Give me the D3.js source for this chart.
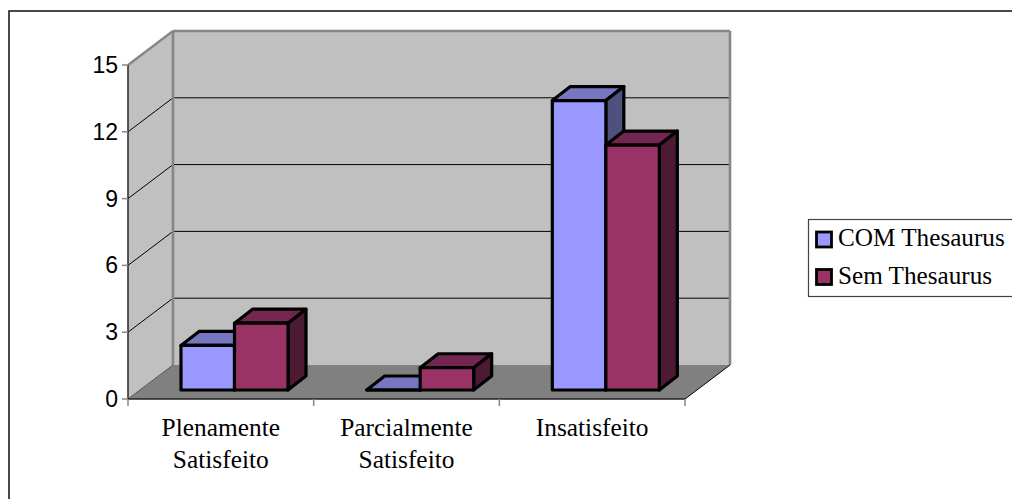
<!DOCTYPE html>
<html><head><meta charset="utf-8">
<script src="https://cdn.jsdelivr.net/npm/d3@7/dist/d3.min.js"></script>
<style>html,body{margin:0;padding:0;background:#fff}svg{display:block}</style>
</head><body><svg id="c" width="1012" height="499"></svg>
<script>
const categories=[["Plenamente","Satisfeito"],["Parcialmente","Satisfeito"],["Insatisfeito"]];
const seriesNames=["COM Thesaurus","Sem Thesaurus"];
const comThesaurus=[2,0,13];
const semThesaurus=[3,1,11];
const yTicks=[0,3,6,9,12,15];
const frontColors=["#9999FF","#993366"];
const topColors=["#7777C1","#722650"];
const sideColors=["#50507F","#4C1A33"];

const svg=d3.select("#c");
const serif='"Liberation Serif","Times New Roman",serif', sans='"Liberation Sans",Arial,sans-serif';
const x0=d3.scaleBand().domain(d3.range(categories.length)).range([128,685]).padding(0);
const y=d3.scaleLinear().domain([0,15]).range([399,65]);
const wallDx=45, wallDy=-34, barDx=18, barDy=-14, barLift=9, barShift=8;
const x1=d3.scaleBand().domain([0,1]).range([wallDx+barShift-8,wallDx+barShift-8+107]);
const line=d3.line();
const poly=(pts,fill,stroke,sw)=>svg.append("path").attr("d",line(pts)+"Z").attr("fill",fill)
  .attr("stroke",stroke||"none").attr("stroke-width",sw||0).attr("stroke-linejoin","round");
const seg=(a,b,c,w)=>svg.append("line").attr("x1",a[0]).attr("y1",a[1]).attr("x2",b[0]).attr("y2",b[1]).attr("stroke",c).attr("stroke-width",w);

// outer frame, runs off the right and bottom of the picture
svg.append("rect").attr("x",9).attr("y",11).attr("width",1100).attr("height",600).attr("fill","#fff").attr("stroke","#1c1c1c").attr("stroke-width",1.6);

const L=x0.range()[0],R=x0.range()[1],B=y(0),T=y(15);
// walls and floor
poly([[L,B],[L+wallDx,B+wallDy],[L+wallDx,T+wallDy],[L,T]],"#C0C0C0");
poly([[L+wallDx,B+wallDy],[R+wallDx,B+wallDy],[R+wallDx,T+wallDy],[L+wallDx,T+wallDy]],"#C0C0C0");
poly([[L,B],[R,B],[R+wallDx,B+wallDy],[L+wallDx,B+wallDy]],"#808080");

// gridlines
yTicks.filter(t=>t>0&&t<15).forEach(t=>{
  seg([L,y(t)],[L+wallDx,y(t)+wallDy],"#000",1);
  seg([L+wallDx,y(t)+wallDy],[R+wallDx,y(t)+wallDy],"#000",1);
});
// wall edges
seg([L,T],[L+wallDx,T+wallDy],"#868686",2.2);
seg([L+wallDx,T+wallDy],[R+wallDx,T+wallDy],"#868686",2.4);
seg([L+wallDx,T+wallDy],[L+wallDx,B+wallDy],"#868686",2.6);
seg([R+wallDx,T+wallDy],[R+wallDx,B+wallDy],"#868686",2.6);
seg([L,B],[L+wallDx,B+wallDy],"#555",1);
seg([R,B],[R+wallDx,B+wallDy],"#000",1);

// axes
seg([L,T],[L,B],"#333",1.6);
seg([L,B],[R,B],"#222",1.6);
yTicks.forEach(t=>{
  seg([L-6,y(t)],[L,y(t)],"#868686",1.5);
  svg.append("text").attr("x",118).attr("y",y(t)+8).attr("text-anchor","end")
    .attr("font-family",sans).attr("font-size",23).attr("fill","#000").text(t);
});
d3.range(categories.length+1).forEach(i=>{
  const xp=i<categories.length?x0(i):R;
  seg([xp,B],[xp,B+7],"#868686",1.5);
});
categories.forEach((lines,i)=>{
  const cx=x0(i)+x0.bandwidth()/2;
  lines.forEach((s,j)=>svg.append("text").attr("x",cx).attr("y",436+j*32).attr("text-anchor","middle")
    .attr("font-family",serif).attr("font-size",25.4).attr("fill","#000").text(s));
});

// bars
const values=[comThesaurus,semThesaurus];
categories.forEach((_,i)=>{
  values.forEach((vals,s)=>{
    const v=vals[i];
    const xa=x0(i)+x1(s)+8, xb=xa+x1.bandwidth();
    const yb=y(0)-barLift, yt=y(v)-barLift;
    const sw=3.2, k="#000";
    poly([[xa,yt],[xa+barDx,yt+barDy],[xb+barDx,yt+barDy],[xb,yt]],topColors[s],k,sw);
    poly([[xb,yt],[xb+barDx,yt+barDy],[xb+barDx,yb+barDy],[xb,yb]],sideColors[s],k,sw);
    poly([[xa,yt],[xb,yt],[xb,yb],[xa,yb]],frontColors[s],k,sw);
  });
});

// legend, runs off the right edge
svg.append("rect").attr("x",808.5).attr("y",219.5).attr("width",260).attr("height",77).attr("fill","#fff").attr("stroke","#444").attr("stroke-width",1.2);
seriesNames.forEach((n,i)=>{
  const ly=[239.5,277][i];
  svg.append("rect").attr("x",816.5).attr("y",ly-7.5).attr("width",15).attr("height",15)
    .attr("fill",frontColors[i]).attr("stroke","#000").attr("stroke-width",2.8);
  svg.append("text").attr("x",838).attr("y",[246,284][i]).attr("font-family",serif).attr("font-size",25.2).attr("fill","#000").text(n);
});
</script></body></html>
